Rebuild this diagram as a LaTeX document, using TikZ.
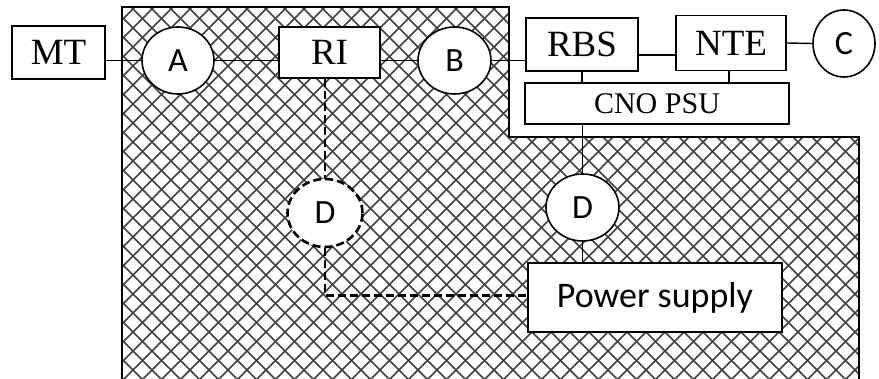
\documentclass[tikz,border=0pt]{standalone}
\usepackage{fontspec}
\setmainfont{Liberation Serif}
\newfontfamily\calibri{Carlito}
\usepackage{tikz}
\usetikzlibrary{positioning,shapes.geometric,calc}

\begin{document}
\begin{tikzpicture}[x=1pt,y=1pt,
  unit/.style={draw, line width=1.6pt, fill=white, inner sep=0pt, font=\fontsize{37}{37}\selectfont},
  port/.style={ellipse, draw, line width=1.6pt, fill=white, inner sep=0pt, font=\calibri\fontsize{34}{34}\selectfont},
  link/.style={line width=1.4pt},
  dline/.style={line width=2.6pt, dash pattern=on 8pt off 4pt}]

\useasboundingbox (0,0) rectangle (879,379);

% Hatched area
\begin{scope}
\clip (122,0) -- (122,371.7) -- (509,371.7) -- (509,242) -- (859,242) -- (859,0) -- cycle;
\foreach \k in {-16,...,66} {
  \draw[black!75, line width=1.6pt] (\k*19,-10) -- ++(420,420);
  \draw[black!75, line width=1.6pt] (\k*19,-10) -- ++(-420,420);
}
\end{scope}
\draw[line width=1.6pt] (122,0) -- (122,371.7) -- (509,371.7) -- (509,242) -- (859,242) -- (859,0);

% Top row
\node[unit, minimum width=93, minimum height=53] (mt) at (58.5,326.5) {MT};
\node[port, minimum width=72, minimum height=67] (a) at (178,318.5) {A};
\node[unit, minimum width=101, minimum height=51] (ri) at (329.5,326.5) {RI};
\node[port, minimum width=73, minimum height=67] (b) at (454.5,318.5) {B};
\node[unit, minimum width=112, minimum height=53] (rbs) at (582,334.5) {RBS};
\node[unit, minimum width=110, minimum height=55] (nte) at (731,336) {NTE};
\node[port, minimum width=62, minimum height=67] (c) at (844,335.5) {C};
\node[unit, minimum width=264, minimum height=41, font=\fontsize{30}{30}\selectfont] (cno) at (657,275.5) {CNO PSU};

% Lower part
\node[port, minimum width=73, minimum height=67] (d2) at (582.5,171.5) {D};
\node[port, minimum width=75, minimum height=68, dline] (d1) at (325,166) {D};
\node[unit, minimum width=254, minimum height=69, font=\calibri\fontsize{36}{36}\selectfont] (ps) at (655,81.5) {Power supply};

% Connections
\draw[link] (mt.east |- a.west) -- (a.west);
\draw[link] (a.east) -- (ri.west |- a.east);
\draw[link] (ri.east |- b.west) -- (b.west);
\draw[link] (b.east) -- (rbs.west |- b.east);
\draw[link] ([yshift=-10.5pt]rbs.east) -- ([yshift=-10.5pt]rbs.east -| nte.west);
\draw[link] (nte.east) -- (c.west);
\draw[link] (rbs.south) -- (rbs.south |- cno.north);
\draw[link] ([xshift=-2pt]nte.south) -- ([xshift=-2pt]nte.south |- cno.north);
\draw[link] (d2.north |- cno.south) -- (d2.north);
\draw[link] (d2.south) -- (d2.south |- ps.north);

% Dashed path
\draw[dline] (d1.north |- ri.south) -- (d1.north);
\draw[dline] (d1.south) |- ([yshift=2pt]ps.west);

\end{tikzpicture}
\end{document}
